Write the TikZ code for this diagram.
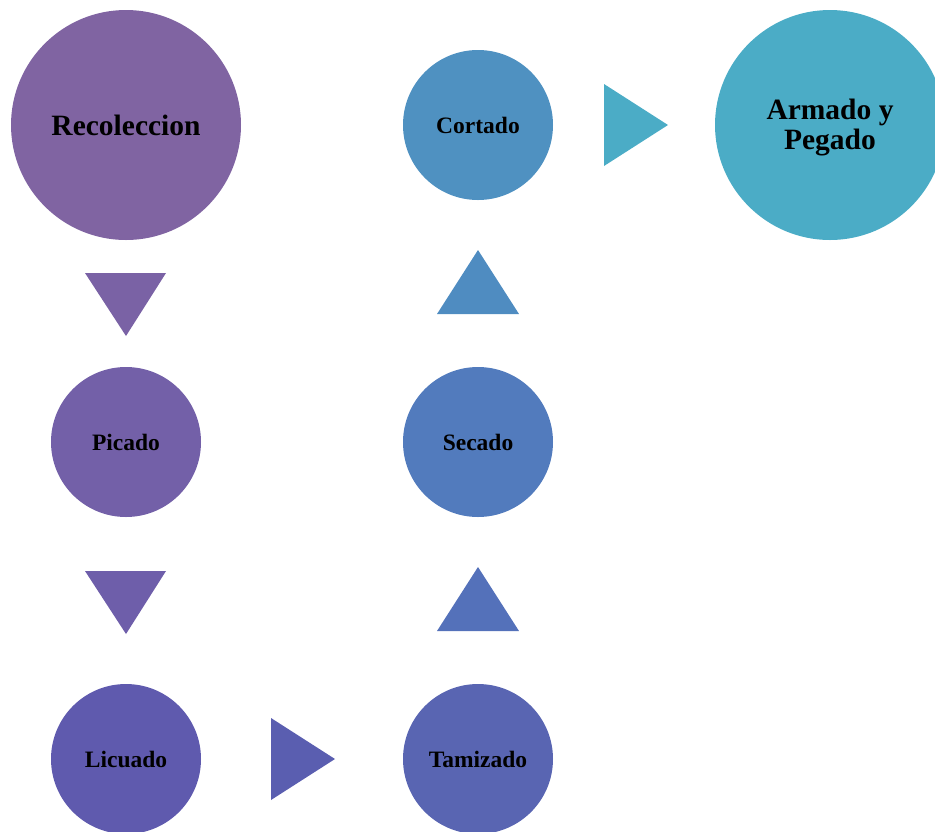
\documentclass[tikz,border=0pt]{standalone}
\usepackage{fontspec}
\setmainfont{Liberation Serif}
\begin{document}
\begin{tikzpicture}[x=1pt,y=-1pt,
  stepcirc/.style={circle,inner sep=0pt,draw=none,font=\bfseries\fontsize{23.5}{26}\selectfont,text=black,align=center},
  bigcirc/.style={stepcirc,minimum size=230pt,font=\bfseries\fontsize{29.5}{30}\selectfont},
  smallcirc/.style={stepcirc,minimum size=150pt}]
\useasboundingbox (0,0) rectangle (935,831);
\clip (0,0) rectangle (935,831);
\definecolor{cA}{HTML}{8064A2}
\definecolor{cB}{HTML}{7360A8}
\definecolor{cC}{HTML}{5F5AAE}
\definecolor{cD}{HTML}{5965B2}
\definecolor{cE}{HTML}{527BBD}
\definecolor{cF}{HTML}{4F91C1}
\definecolor{cG}{HTML}{4BACC6}
\definecolor{tA}{HTML}{7A62A5}
\definecolor{tB}{HTML}{6E5EAA}
\definecolor{tC}{HTML}{5A5EB0}
\definecolor{tD}{HTML}{5471BA}
\definecolor{tE}{HTML}{4F8CC1}
\definecolor{tF}{HTML}{4BACC6}
\node[bigcirc,fill=cA] (rec) at (126,125) {Recoleccion};
\node[smallcirc,fill=cB] (pic) at (126,442) {Picado};
\node[smallcirc,fill=cC] (lic) at (126,759) {Licuado};
\node[smallcirc,fill=cD] (tam) at (478,759) {Tamizado};
\node[smallcirc,fill=cE] (sec) at (478,442) {Secado};
\node[smallcirc,fill=cF] (cor) at (478,125) {Cortado};
\node[bigcirc,fill=cG] (arm) at (830,125) {};
\node[stepcirc,font=\bfseries\fontsize{29.5}{30}\selectfont] (armtxt) at ([yshift=-3pt]arm.center) {Armado y\\Pegado};
\fill[tA] (85,273) -- (166,273) -- (126,336) -- cycle;
\fill[tB] (85,571) -- (166,571) -- (126,634) -- cycle;
\fill[tC] (271,718) -- (271,800) -- (335,759) -- cycle;
\fill[tD] (437,631) -- (519,631) -- (478,567) -- cycle;
\fill[tE] (437,314) -- (519,314) -- (478,250) -- cycle;
\fill[tF] (604,84) -- (604,166) -- (668,125) -- cycle;
\end{tikzpicture}
\end{document}
